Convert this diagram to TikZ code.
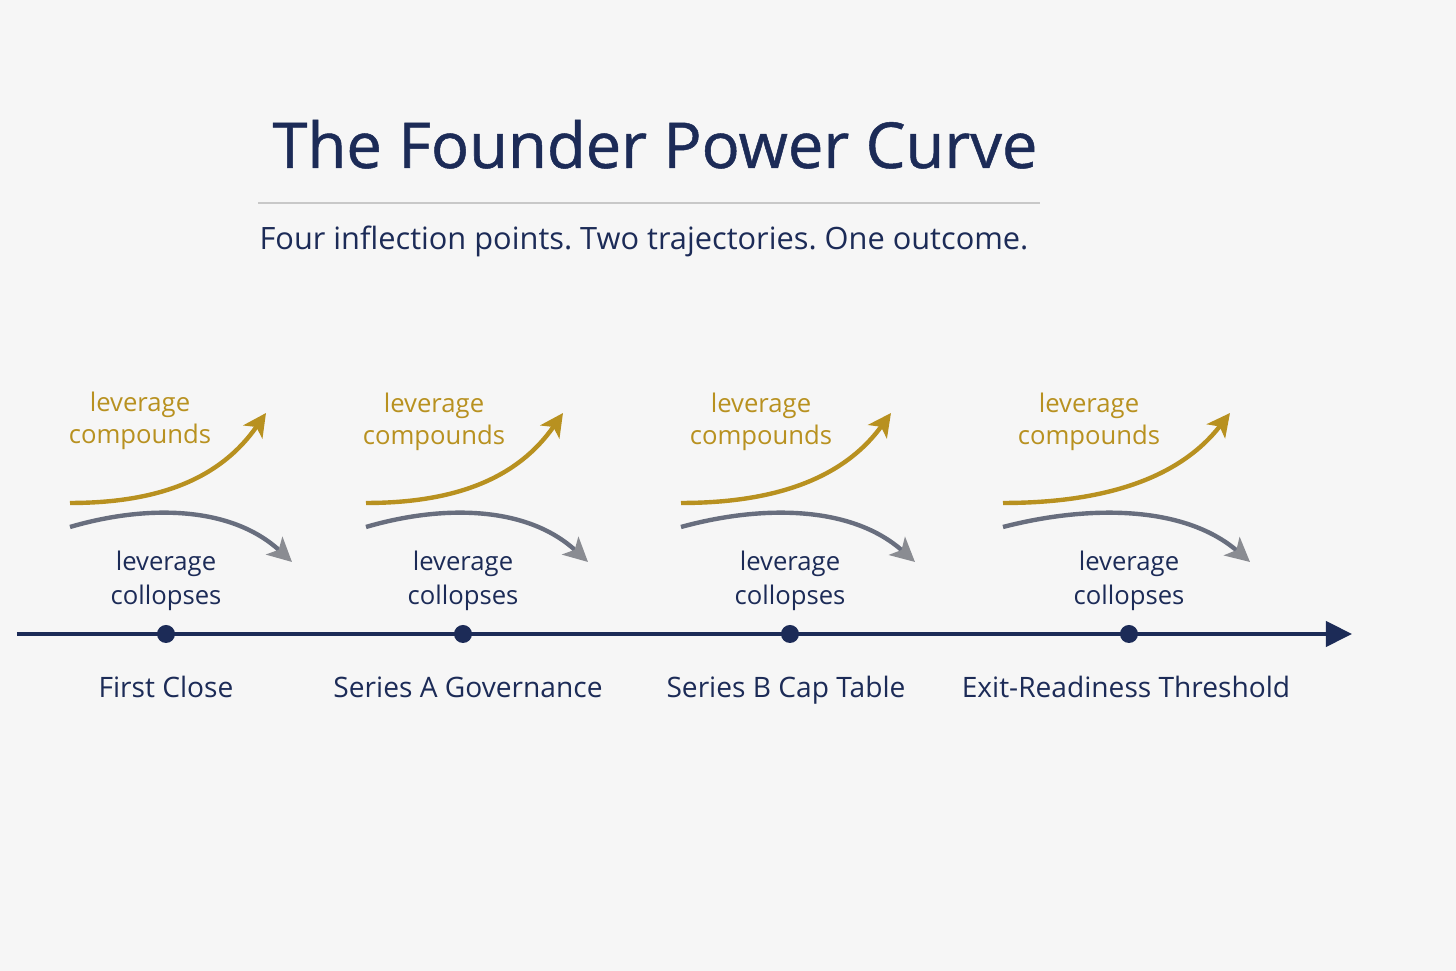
\documentclass[tikz,border=0pt]{standalone}
\usepackage{fontspec}
\setmainfont{Open Sans}
\newfontfamily\titlefont[FakeBold=0.8]{Open Sans}
\usepackage{xcolor}
\usetikzlibrary{arrows.meta, positioning, calc}
\definecolor{navy}{RGB}{28,43,87}
\definecolor{gold}{RGB}{184,145,32}
\definecolor{slate}{RGB}{104,110,126}
\definecolor{tipgray}{RGB}{138,140,146}
\definecolor{paper}{RGB}{246,246,246}
\definecolor{rulegray}{RGB}{200,200,200}
\frenchspacing

\begin{document}
\begin{tikzpicture}[
    x=0.01cm, y=-0.01cm,
    milestone/.style={circle, fill=navy, inner sep=0pt, minimum size=0.18cm},
    stage/.style={font=\fontsize{8}{10}\selectfont, text=navy, text height=6pt, text depth=1.7pt},
    gain/.style={font=\fontsize{7.3}{9.1}\selectfont, text=gold, align=center},
    loss/.style={font=\fontsize{7.3}{9.6}\selectfont, text=navy, align=center},
    rise/.style={draw=gold, line width=1.25pt, -{Stealth[length=2.3mm, width=2.3mm, inset=0.6mm]}},
    fall/.style={draw=slate, line width=1.25pt, -{Stealth[length=2.4mm, width=2.4mm, inset=0.6mm, color=tipgray]}},
    timeline/.style={draw=navy, line width=1.2pt, -{Triangle[length=2.6mm, width=2.5mm]}}
]
\fill[paper] (0,0) rectangle (1456,971);

\node[font=\titlefont\fontsize{18}{22}\selectfont, text=navy, anchor=base] (title) at (655,168) {The Founder Power Curve};
\draw[rulegray, line width=0.4pt] (258,203) -- (1040,203);
\node[font=\fontsize{8.75}{11}\selectfont, text=navy, anchor=base] (subtitle) at (644,250) {Four inflection points. Two trajectories. One outcome.};

% timeline
\coordinate (t0) at (17,634);
\coordinate (t1) at (1352,634);
\draw[timeline] (t0) -- (t1);
\node[milestone] (d1) at (166,634) {};
\node[milestone] (d2) at (463,634) {};
\node[milestone] (d3) at (790,634) {};
\node[milestone] (d4) at (1129,634) {};

\node[stage, below=0.205cm of d1] (s1) {First Close};
\node[stage, below=0.205cm of d2, xshift=0.05cm] (s2) {Series A Governance};
\node[stage, below=0.205cm of d3, xshift=-0.04cm] (s3) {Series B Cap Table};
\node[stage, below=0.205cm of d4, xshift=-0.03cm] (s4) {Exit-Readiness Threshold};

% trajectories
\coordinate (a1) at (70,503);   \coordinate (b1) at (266,413);
\coordinate (c1) at (70,527);   \coordinate (e1) at (292,562);
\coordinate (a2) at (366,503);  \coordinate (b2) at (563,413);
\coordinate (c2) at (366,527);  \coordinate (e2) at (588,562);
\coordinate (a3) at (681,503);  \coordinate (b3) at (891,413);
\coordinate (c3) at (681,527);  \coordinate (e3) at (915,562);
\coordinate (a4) at (1003,503); \coordinate (b4) at (1230,413);
\coordinate (c4) at (1003,527); \coordinate (e4) at (1250,562);

\draw[rise] (a1) .. controls +(90,0) and +(-45,65) .. (b1);
\draw[fall] (c1) .. controls +(75,-22) and +(-62,-57) .. (e1);
\draw[rise] (a2) .. controls +(90,0) and +(-45,65) .. (b2);
\draw[fall] (c2) .. controls +(75,-22) and +(-62,-57) .. (e2);
\draw[rise] (a3) .. controls +(95,0) and +(-47,65) .. (b3);
\draw[fall] (c3) .. controls +(80,-22) and +(-64,-57) .. (e3);
\draw[rise] (a4) .. controls +(102,0) and +(-50,65) .. (b4);
\draw[fall] (c4) .. controls +(85,-22) and +(-66,-57) .. (e4);

\node[gain] (g1) at (140,421) {leverage\\compounds};
\node[gain] (g2) at (434,422) {leverage\\compounds};
\node[gain] (g3) at (761,422) {leverage\\compounds};
\node[gain] (g4) at (1089,422) {leverage\\compounds};

\node[loss, above=0.01cm of d1] (l1) {leverage\\collopses};
\node[loss, above=0.01cm of d2] (l2) {leverage\\collopses};
\node[loss, above=0.01cm of d3] (l3) {leverage\\collopses};
\node[loss, above=0.01cm of d4] (l4) {leverage\\collopses};
\end{tikzpicture}
\end{document}
